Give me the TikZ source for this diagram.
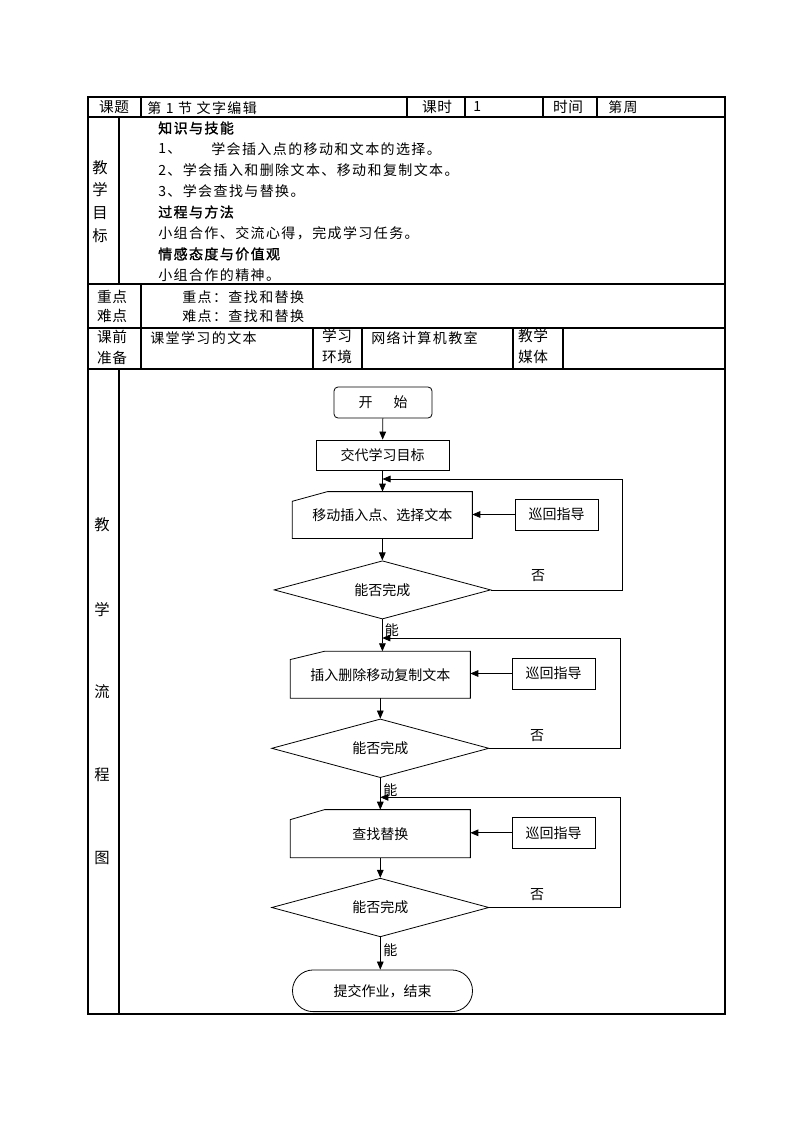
\documentclass[tikz,border=0pt]{standalone}
\usepackage{fontspec}
\setmainfont{Noto Sans CJK SC}
\newfontfamily\tblfont[LetterSpace=10]{Noto Sans CJK SC}
\newfontfamily\tblbold[LetterSpace=10,FakeBold=1.5]{Noto Sans CJK SC}
\newfontfamily\lblfont[LetterSpace=4]{Noto Sans CJK SC}
\usetikzlibrary{arrows.meta,shapes.geometric,calc}
\begin{document}
\begin{tikzpicture}[x=0.75pt,y=-0.75pt,
  tab/.style={line width=0.9pt},
  txt/.style={inner sep=0pt,anchor=west,font=\tblfont\fontsize{10.5pt}{12pt}\selectfont},
  hd/.style={inner sep=0pt,anchor=west,font=\tblbold\fontsize{10.5pt}{12pt}\selectfont},
  lbl/.style={inner sep=0pt,font=\lblfont\fontsize{11pt}{13pt}\selectfont},
  side/.style={inner sep=0pt,font=\fontsize{11.5pt}{13pt}\selectfont},
  fl/.style={draw,line width=0.6pt,inner sep=0pt,font=\fontsize{10.5pt}{12pt}\selectfont},
  ln/.style={line width=0.6pt},
  arr/.style={line width=0.6pt,-{Triangle[length=6pt,width=5pt]}},
  lab/.style={inner sep=0pt,font=\fontsize{10.5pt}{12pt}\selectfont}
]
\useasboundingbox[fill=white] (0,0) rectangle (794,1123);

% ---------- table ----------
\draw[tab] (88,97) rectangle (725,1014);
\foreach \y in {117,284,328,369} \draw[tab] (88,\y) -- (725,\y);
\foreach \x in {141,407,465,543,597} \draw[tab] (\x,97) -- (\x,117);
\draw[tab] (119,117) -- (119,284);
\draw[tab] (141,284) -- (141,328);
\foreach \x in {141,313,362,513,563} \draw[tab] (\x,328) -- (\x,369);
\draw[tab] (119,369) -- (119,1014);

% row 1
\node[lbl] (kt) at (114,107) {课题};
\node[txt] (kt2) at (147,108) {第 1 节 文字编辑};
\node[lbl] (ks) at (437,107) {课时};
\node[txt] (ks2) at (473,107) {1};
\node[lbl] (sj) at (568,107) {时间};
\node[txt] (sj2) at (608,107) {第周};

% objectives
\node[side] (o1) at (100,168) {教};
\node[side] (o2) at (100,190) {学};
\node[side] (o3) at (100,213) {目};
\node[side] (o4) at (100,236) {标};
\node[hd] (t1) at (158,128) {知识与技能};
\node[txt] (t2a) at (158,149) {1、};
\node[txt] (t2b) at (211,149) {学会插入点的移动和文本的选择。};
\node[txt] (t3) at (158,170) {2、学会插入和删除文本、移动和复制文本。};
\node[txt] (t4) at (158,191) {3、学会查找与替换。};
\node[hd] (t5) at (158,212) {过程与方法};
\node[txt] (t6) at (158,233) {小组合作、交流心得，完成学习任务。};
\node[hd] (t7) at (158,254) {情感态度与价值观};
\node[txt] (t8) at (158,275) {小组合作的精神。};

% key points
\node[lbl] (k1) at (112,297) {重点};
\node[lbl] (k2) at (112,316) {难点};
\node[txt] (k3) at (182,297) {重点：查找和替换};
\node[txt] (k4) at (182,316) {难点：查找和替换};

% preparation
\node[lbl] (p1) at (112,337) {课前};
\node[lbl] (p2) at (112,358) {准备};
\node[txt] (p3) at (150,338) {课堂学习的文本};
\node[lbl] (p4) at (337,336) {学习};
\node[lbl] (p5) at (337,357) {环境};
\node[txt] (p6) at (371,338) {网络计算机教室};
\node[lbl] (p7) at (533,336) {教学};
\node[lbl] (p8) at (533,357) {媒体};

% flow side labels
\node[side] (s1) at (102,525) {教};
\node[side] (s2) at (102,610) {学};
\node[side] (s3) at (102,692) {流};
\node[side] (s4) at (102,775) {程};
\node[side] (s5) at (102,858) {图};

% ---------- flowchart ----------
\node[fl,rounded corners=3pt,minimum width=73.5pt,minimum height=23.25pt] (start) at (383,402.5) {开\hspace{15.75pt}始};
\node[fl,minimum width=99.75pt,minimum height=22.5pt] (goal) at (382.5,455) {交代学习目标};

% block 1
\node[fl,draw=none,minimum width=134.5pt,minimum height=34.5pt] (b1) at (382.3,515) {移动插入点、选择文本};
\draw[ln] (b1.south west) -- (b1.south east) -- (b1.north east) -- ($(b1.north west)+(35.3,0)$) -- ($(b1.north west)+(0,9.7)$) -- cycle;
\node[fl,minimum width=62.25pt,minimum height=23.25pt] (g1) at (556.5,514.5) {巡回指导};
\node[fl,diamond,aspect=3.7,minimum width=162.5pt,minimum height=43.7pt] (d1) at (382.4,589.9) {能否完成};

% block 2
\node[fl,draw=none,minimum width=134.5pt,minimum height=34.7pt] (b2) at (380.3,674.8) {插入删除移动复制文本};
\draw[ln] (b2.south west) -- (b2.south east) -- (b2.north east) -- ($(b2.north west)+(34.3,0)$) -- ($(b2.north west)+(0,8.3)$) -- cycle;
\node[fl,minimum width=62.25pt,minimum height=23.25pt] (g2) at (553.5,673.5) {巡回指导};
\node[fl,diamond,aspect=3.7,minimum width=163pt,minimum height=44pt] (d2) at (380.3,748.3) {能否完成};

% block 3
\node[fl,draw=none,minimum width=134.5pt,minimum height=35.5pt] (b3) at (380.3,833.7) {查找替换};
\draw[ln] (b3.south west) -- (b3.south east) -- (b3.north east) -- ($(b3.north west)+(34.3,0)$) -- ($(b3.north west)+(0,10)$) -- cycle;
\node[fl,minimum width=62.25pt,minimum height=23.25pt] (g3) at (553.5,832.8) {巡回指导};
\node[fl,diamond,aspect=3.7,minimum width=163pt,minimum height=44pt] (d3) at (380.3,907.5) {能否完成};

\node[fl,rounded corners=15.5pt,minimum width=135pt,minimum height=31.25pt] (end) at (382.5,990.8) {提交作业，结束};

% connectors
\draw[arr] (start) -- (goal);
\draw[arr] (goal) -- (goal.south |- b1.north);
\draw[arr] (b1.south) -- (b1.south |- d1.north);
\draw[arr] (g1) -- (g1 -| b1.east);
\draw[arr] (d1.south) -- (d1.south |- b2.north);
\draw[arr] (b2.south) -- (b2.south |- d2.north);
\draw[arr] (g2) -- (g2 -| b2.east);
\draw[arr] (d2.south) -- (d2.south |- b3.north);
\draw[arr] (b3.south) -- (b3.south |- d3.north);
\draw[arr] (g3) -- (g3 -| b3.east);
\draw[arr] (d3.south) -- (d3.south |- end.north);

% feedback loops
\coordinate (r1) at (622,479);
\coordinate (f1) at (382.5,479);
\draw[arr] (d1.east) -| (r1) -- (f1);
\coordinate (r2) at (620,638);
\coordinate (f2) at (382.3,638);
\draw[arr] (d2.east) -| (r2) -- (f2);
\coordinate (r3) at (620,797.3);
\coordinate (f3) at (380.3,797.3);
\draw[arr] (d3.east) -| (r3) -- (f3);

% labels
\node[lab] (n1) at (538,576) {否};
\node[lab] (n2) at (537,736) {否};
\node[lab] (n3) at (537,895) {否};
\node[lab,anchor=west] (y1) at (384.5,630) {能};
\node[lab,anchor=west] (y2) at (383,790) {能};
\node[lab,anchor=west] (y3) at (383,950) {能};
\end{tikzpicture}
\end{document}
